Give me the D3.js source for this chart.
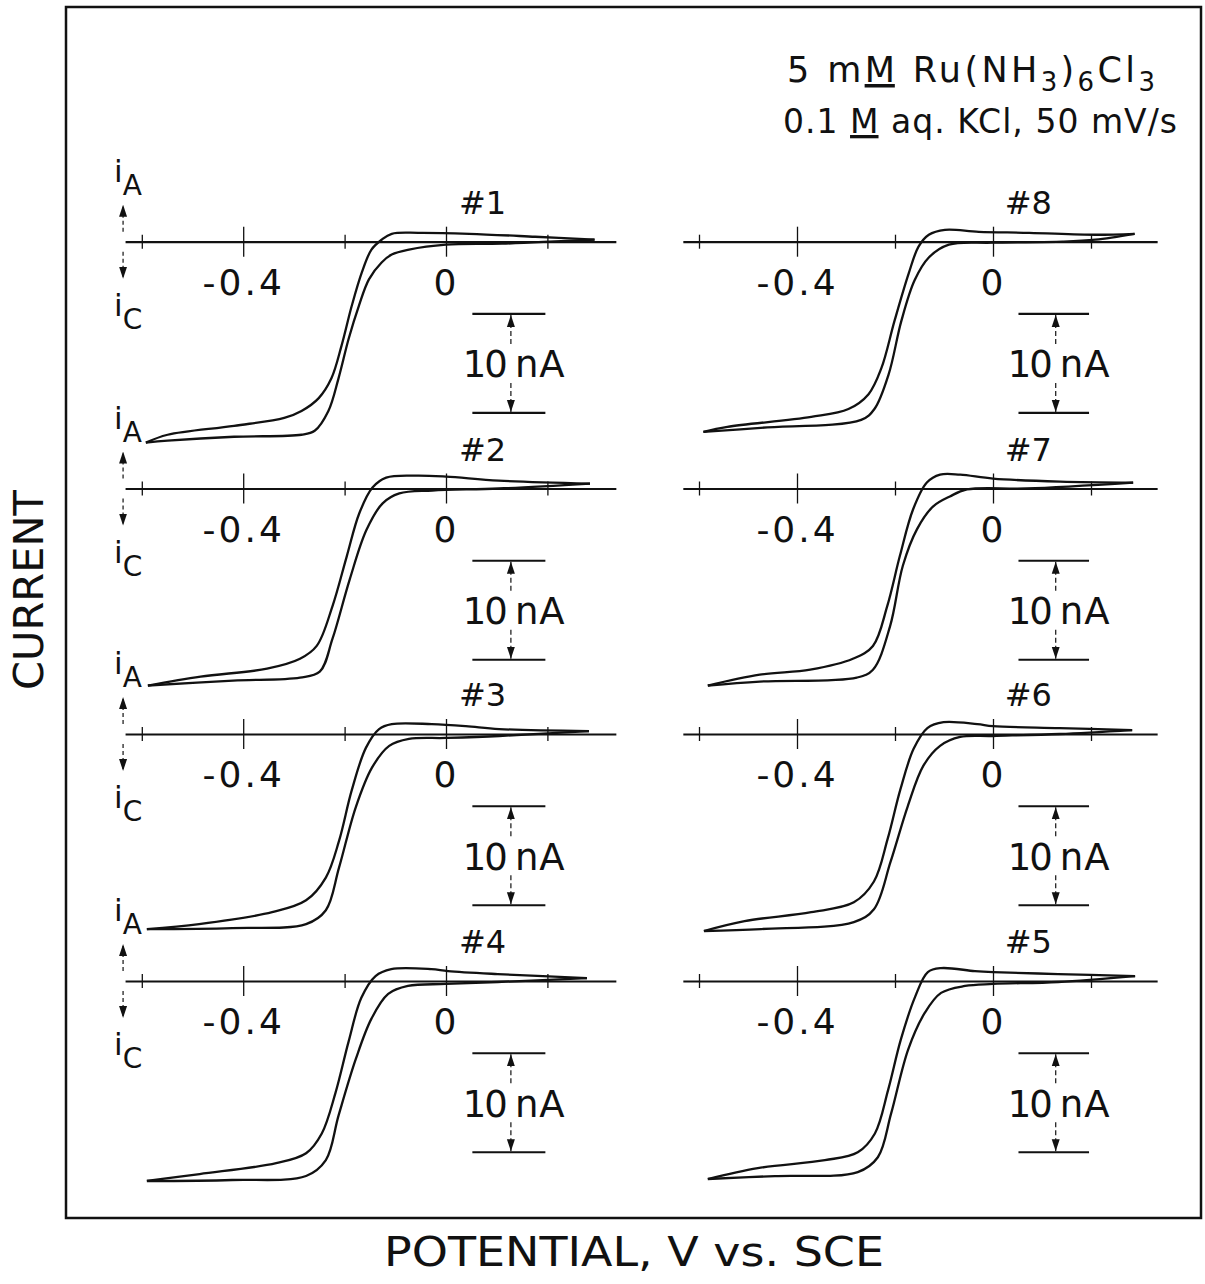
<!DOCTYPE html>
<html>
<head>
<meta charset="utf-8">
<script src="https://cdn.jsdelivr.net/npm/d3@7"></script>
<style>
  body { margin: 0; background: #fff; }
  svg { display: block; }
  text { font-family: "DejaVu Sans", "Liberation Sans", sans-serif; fill: #111; }
</style>
</head>
<body>
<svg id="chart" width="1205" height="1284"></svg>
<script>
// potential axis (V vs SCE) and the labelled ticks
var potTicks = [-0.6, -0.4, -0.2, 0, 0.2];
var potMajor = [-0.4, 0];
var potMajorText = ["-0.4", "0"];
var potDomain = [-0.633, 0.335];
// 10 nA scale bar, in nA
var scaleBarNA = [-7.3, -17.3];

// each voltammogram: return sweep (upper/left branch) and cathodic sweep (lower/right branch)
// [potential V, current nA], cathodic current negative
var rev1 = [[-0.592,-20.3],[-0.549,-19.5],[-0.418,-18.6],[-0.319,-17.8],[-0.285,-17.1],[-0.251,-15.8],[-0.226,-13.8],[-0.206,-10.5],[-0.186,-6.5],[-0.166,-3.1],[-0.147,-0.8],[-0.127,0.2],[-0.107,0.8],[-0.053,0.9],[0.046,0.8],[0.176,0.5],[0.293,0.2]];
var fwd1 = [[-0.592,-20.3],[-0.549,-20.1],[-0.418,-19.7],[-0.285,-19.5],[-0.259,-19.1],[-0.232,-17.1],[-0.212,-13.8],[-0.192,-9.8],[-0.172,-6.5],[-0.152,-3.8],[-0.127,-2.1],[-0.107,-1.3],[-0.073,-0.8],[0,-0.3],[0.111,-0.2],[0.293,0.2]];

var rev2 = [[-0.588,-19.9],[-0.484,-19.0],[-0.353,-18.2],[-0.288,-17.2],[-0.255,-15.9],[-0.224,-11.9],[-0.196,-6.9],[-0.171,-2.5],[-0.145,0.1],[-0.118,1.1],[-0.059,1.3],[0,1.2],[0.104,0.8],[0.284,0.5]];
var fwd2 = [[-0.588,-19.9],[-0.420,-19.4],[-0.288,-19.1],[-0.249,-18.5],[-0.224,-15.2],[-0.190,-9.2],[-0.157,-4.2],[-0.125,-1.5],[-0.092,-0.5],[-0.027,-0.2],[0.104,0],[0.284,0.5]];

var rev3 = [[-0.590,-19.7],[-0.487,-19.2],[-0.343,-18.0],[-0.276,-16.8],[-0.237,-14.5],[-0.211,-10.8],[-0.186,-5.7],[-0.158,-1.4],[-0.132,0.5],[-0.107,1.0],[-0.028,1.0],[0.039,0.8],[0.105,0.5],[0.282,0.3]];
var fwd3 = [[-0.590,-19.7],[-0.422,-19.6],[-0.276,-19.2],[-0.237,-17.8],[-0.211,-13.5],[-0.178,-7.4],[-0.146,-3.4],[-0.112,-1.2],[-0.073,-0.5],[0,-0.4],[0.105,-0.2],[0.282,0.3]];

var rev4 = [[-0.590,-20.2],[-0.486,-19.5],[-0.335,-18.4],[-0.276,-17.4],[-0.245,-15.4],[-0.218,-11.3],[-0.192,-6.1],[-0.167,-1.7],[-0.139,0.5],[-0.108,1.2],[-0.029,1.2],[0.004,1.0],[0.102,0.7],[0.278,0.3]];
var fwd4 = [[-0.590,-20.2],[-0.422,-20.1],[-0.276,-19.7],[-0.237,-18.1],[-0.212,-13.6],[-0.178,-7.9],[-0.147,-3.8],[-0.114,-1.3],[-0.075,-0.5],[0,-0.3],[0.102,-0.1],[0.278,0.3]];

var rev5 = [[-0.582,-20.0],[-0.480,-18.9],[-0.343,-18.1],[-0.276,-17.3],[-0.241,-15.4],[-0.214,-11.0],[-0.188,-5.9],[-0.159,-1.6],[-0.133,0.9],[-0.106,1.3],[-0.037,1.0],[0,0.9],[0.133,0.7],[0.290,0.5]];
var fwd5 = [[-0.582,-20.0],[-0.445,-19.7],[-0.276,-19.3],[-0.235,-17.8],[-0.208,-13.4],[-0.173,-6.9],[-0.139,-3.2],[-0.106,-1.2],[-0.057,-0.5],[0,-0.3],[0.133,-0.1],[0.290,0.5]];

var rev6 = [[-0.590,-19.9],[-0.507,-18.9],[-0.371,-18.0],[-0.284,-17.0],[-0.243,-14.9],[-0.215,-10.6],[-0.189,-5.6],[-0.162,-1.5],[-0.134,0.6],[-0.101,1.2],[-0.032,1.0],[0,0.8],[0.136,0.6],[0.284,0.4]];
var fwd6 = [[-0.590,-19.9],[-0.473,-19.7],[-0.284,-19.0],[-0.243,-17.7],[-0.209,-12.9],[-0.174,-7.3],[-0.142,-3.2],[-0.108,-1.2],[-0.067,-0.3],[0,-0.2],[0.136,0],[0.284,0.4]];

var rev7 = [[-0.582,-19.9],[-0.476,-18.8],[-0.373,-18.3],[-0.286,-17.2],[-0.245,-15.9],[-0.216,-11.9],[-0.190,-6.8],[-0.163,-2.1],[-0.135,0.6],[-0.108,1.4],[-0.067,1.4],[0,1.0],[0.137,0.7],[0.286,0.6]];
var fwd7 = [[-0.582,-19.9],[-0.476,-19.5],[-0.278,-19.1],[-0.245,-18.3],[-0.210,-13.9],[-0.184,-7.8],[-0.155,-4.1],[-0.122,-1.8],[-0.088,-0.8],[-0.053,-0.1],[0.069,0],[0.286,0.6]];

var rev8 = [[-0.591,-19.2],[-0.542,-18.7],[-0.371,-17.7],[-0.295,-16.9],[-0.254,-15.4],[-0.228,-12.8],[-0.201,-8.0],[-0.172,-3.2],[-0.152,-0.5],[-0.131,0.7],[-0.098,1.2],[-0.029,1.0],[0.074,0.9],[0.209,0.7],[0.289,0.8]];
var fwd8 = [[-0.591,-19.2],[-0.474,-18.8],[-0.269,-18.0],[-0.242,-16.9],[-0.213,-13.4],[-0.187,-8.0],[-0.160,-3.9],[-0.131,-1.6],[-0.090,-0.3],[-0.002,-0.1],[0.142,0],[0.209,0.2],[0.289,0.8]];

var panelNames = ["#1", "#2", "#3", "#4", "#8", "#7", "#6", "#5"];
var panelRev = [rev1, rev2, rev3, rev4, rev8, rev7, rev6, rev5];
var panelFwd = [fwd1, fwd2, fwd3, fwd4, fwd8, fwd7, fwd6, fwd5];

// layout
var colZero = [446, 993];     // pixel of 0 V in each column
var colPxPerV = [507, 490];
var rowAxisY = [241.7, 488.5, 734, 981];
var pxPerNA = 9.9;

var svg = d3.select("#chart");
var ink = "#111";

var defs = svg.append("defs");
defs.append("marker")
    .attr("id", "head")
    .attr("viewBox", "0 -5 12 10")
    .attr("refX", 12)
    .attr("refY", 0)
    .attr("markerUnits", "userSpaceOnUse")
    .attr("markerWidth", 12)
    .attr("markerHeight", 10)
    .attr("orient", "auto")
    .append("path")
    .attr("d", "M0,-4L12,0L0,4Z")
    .attr("fill", ink);

// frame
svg.append("rect")
    .attr("x", 66).attr("y", 7)
    .attr("width", 1135).attr("height", 1211)
    .attr("fill", "none")
    .attr("stroke", ink)
    .attr("stroke-width", 2.5);

panelNames.forEach(function (name, i) {
    var col = i < 4 ? 0 : 1;
    var row = i % 4;
    var axisY = rowAxisY[row];
    var zero = colZero[col], ppv = colPxPerV[col];

    var x = d3.scaleLinear()
        .domain(potDomain)
        .range([zero + potDomain[0] * ppv, zero + potDomain[1] * ppv]);
    var y = d3.scaleLinear()
        .domain([0, -20])
        .range([axisY, axisY + 20 * pxPerNA]);

    var g = svg.append("g").attr("class", "panel");

    // potential axis, ticks cross the line
    var ax = g.append("g")
        .attr("transform", "translate(0," + axisY + ")")
        .call(d3.axisBottom(x)
            .tickValues(potTicks)
            .tickSizeOuter(0)
            .tickFormat(function (d) {
                var k = potMajor.indexOf(d);
                return k >= 0 ? potMajorText[k] : "";
            }));
    ax.select(".domain").attr("stroke", ink).attr("stroke-width", 2.2);
    ax.selectAll(".tick line")
        .attr("stroke", ink)
        .attr("stroke-width", 1.3)
        .attr("y1", function (d) { return potMajor.indexOf(d) >= 0 ? -15 : -7; })
        .attr("y2", function (d) { return potMajor.indexOf(d) >= 0 ? 15 : 7; });
    ax.selectAll(".tick text")
        .attr("y", 53)
        .attr("dy", null)
        .attr("fill", ink)
        .style("font-family", "'DejaVu Sans', sans-serif")
        .style("font-size", "36px")
        .style("letter-spacing", "3px");

    // voltammogram branches
    var line = d3.line()
        .x(function (d) { return x(d[0]); })
        .y(function (d) { return y(d[1]); })
        .curve(d3.curveCatmullRom.alpha(0.5));
    g.selectAll(".branch")
        .data([panelRev[i], panelFwd[i]])
        .enter()
        .append("path")
        .attr("class", "branch")
        .attr("d", line)
        .attr("fill", "none")
        .attr("stroke", ink)
        .attr("stroke-width", 2.3)
        .attr("stroke-linejoin", "round");

    // panel number
    g.append("text")
        .attr("x", x(0.072))
        .attr("y", axisY - 28)
        .attr("text-anchor", "middle")
        .style("font-size", "32px")
        .text(name);

    // 10 nA scale bar
    var bx0 = x(0.052), bx1 = x(0.196), bxa = x(0.128);
    var byTop = y(scaleBarNA[0]), byBot = y(scaleBarNA[1]);
    g.selectAll(".sbar")
        .data(scaleBarNA)
        .enter()
        .append("line")
        .attr("class", "sbar")
        .attr("x1", bx0).attr("x2", bx1)
        .attr("y1", function (d) { return y(d); })
        .attr("y2", function (d) { return y(d); })
        .attr("stroke", ink)
        .attr("stroke-width", 2.2);
    g.append("line")
        .attr("x1", bxa).attr("x2", bxa)
        .attr("y1", byTop + 30).attr("y2", byTop + 1)
        .attr("stroke", ink).attr("stroke-width", 1.2)
        .attr("stroke-dasharray", "5,3")
        .attr("marker-end", "url(#head)");
    g.append("line")
        .attr("x1", bxa).attr("x2", bxa)
        .attr("y1", byBot - 30).attr("y2", byBot - 1)
        .attr("stroke", ink).attr("stroke-width", 1.2)
        .attr("stroke-dasharray", "5,3")
        .attr("marker-end", "url(#head)");
    var midY = (byTop + byBot) / 2 + 14;
    g.append("text")
        .attr("x", bxa - 5).attr("y", midY)
        .attr("text-anchor", "end")
        .style("font-size", "37px")
        .style("letter-spacing", "-2px")
        .text("10");
    g.append("text")
        .attr("x", bxa + 4).attr("y", midY)
        .attr("text-anchor", "start")
        .style("font-size", "37px")
        .style("letter-spacing", "1px")
        .text("nA");

    // anodic / cathodic direction marks on the left column
    if (col === 0) {
        var ix = x(potDomain[0]) - 2;
        g.append("line")
            .attr("x1", ix).attr("x2", ix)
            .attr("y1", axisY - 10).attr("y2", axisY - 37)
            .attr("stroke", ink).attr("stroke-width", 1.2)
            .attr("stroke-dasharray", "4,3")
            .attr("marker-end", "url(#head)");
        g.append("line")
            .attr("x1", ix).attr("x2", ix)
            .attr("y1", axisY + 10).attr("y2", axisY + 37)
            .attr("stroke", ink).attr("stroke-width", 1.2)
            .attr("stroke-dasharray", "4,3")
            .attr("marker-end", "url(#head)");
        var ia = g.append("text")
            .attr("x", ix - 9).attr("y", axisY - 60)
            .style("font-size", "31px");
        ia.append("tspan").text("i");
        ia.append("tspan").attr("dy", 13).style("font-size", "28px").text("A");
        var ic = g.append("text")
            .attr("x", ix - 9).attr("y", axisY + 74)
            .style("font-size", "31px");
        ic.append("tspan").text("i");
        ic.append("tspan").attr("dy", 13).style("font-size", "28px").text("C");
    }
});

// conditions, top right
var t1 = svg.append("text")
    .attr("x", 787).attr("y", 82)
    .attr("textLength", 368)
    .attr("lengthAdjust", "spacing")
    .style("font-size", "35px");
t1.append("tspan").text("5 m");
t1.append("tspan").style("text-decoration", "underline").text("M");
t1.append("tspan").text(" Ru(NH");
t1.append("tspan").attr("dy", 9).style("font-size", "26px").text("3");
t1.append("tspan").attr("dy", -9).text(")");
t1.append("tspan").attr("dy", 9).style("font-size", "26px").text("6");
t1.append("tspan").attr("dy", -9).text("Cl");
t1.append("tspan").attr("dy", 9).style("font-size", "26px").text("3");

var t2 = svg.append("text")
    .attr("x", 783).attr("y", 133)
    .attr("textLength", 394)
    .attr("lengthAdjust", "spacing")
    .style("font-size", "33px");
t2.append("tspan").text("0.1 ");
t2.append("tspan").style("text-decoration", "underline").text("M");
t2.append("tspan").text(" aq. KCl, 50 mV/s");

// axis titles
svg.append("text")
    .attr("x", 634).attr("y", 1266)
    .attr("text-anchor", "middle")
    .attr("textLength", 500)
    .attr("lengthAdjust", "spacingAndGlyphs")
    .style("font-size", "40px")
    .text("POTENTIAL, V vs. SCE");

svg.append("text")
    .attr("transform", "translate(43,590) rotate(-90)")
    .attr("text-anchor", "middle")
    .attr("textLength", 200)
    .attr("lengthAdjust", "spacingAndGlyphs")
    .style("font-size", "41px")
    .text("CURRENT");
</script>
</body>
</html>
